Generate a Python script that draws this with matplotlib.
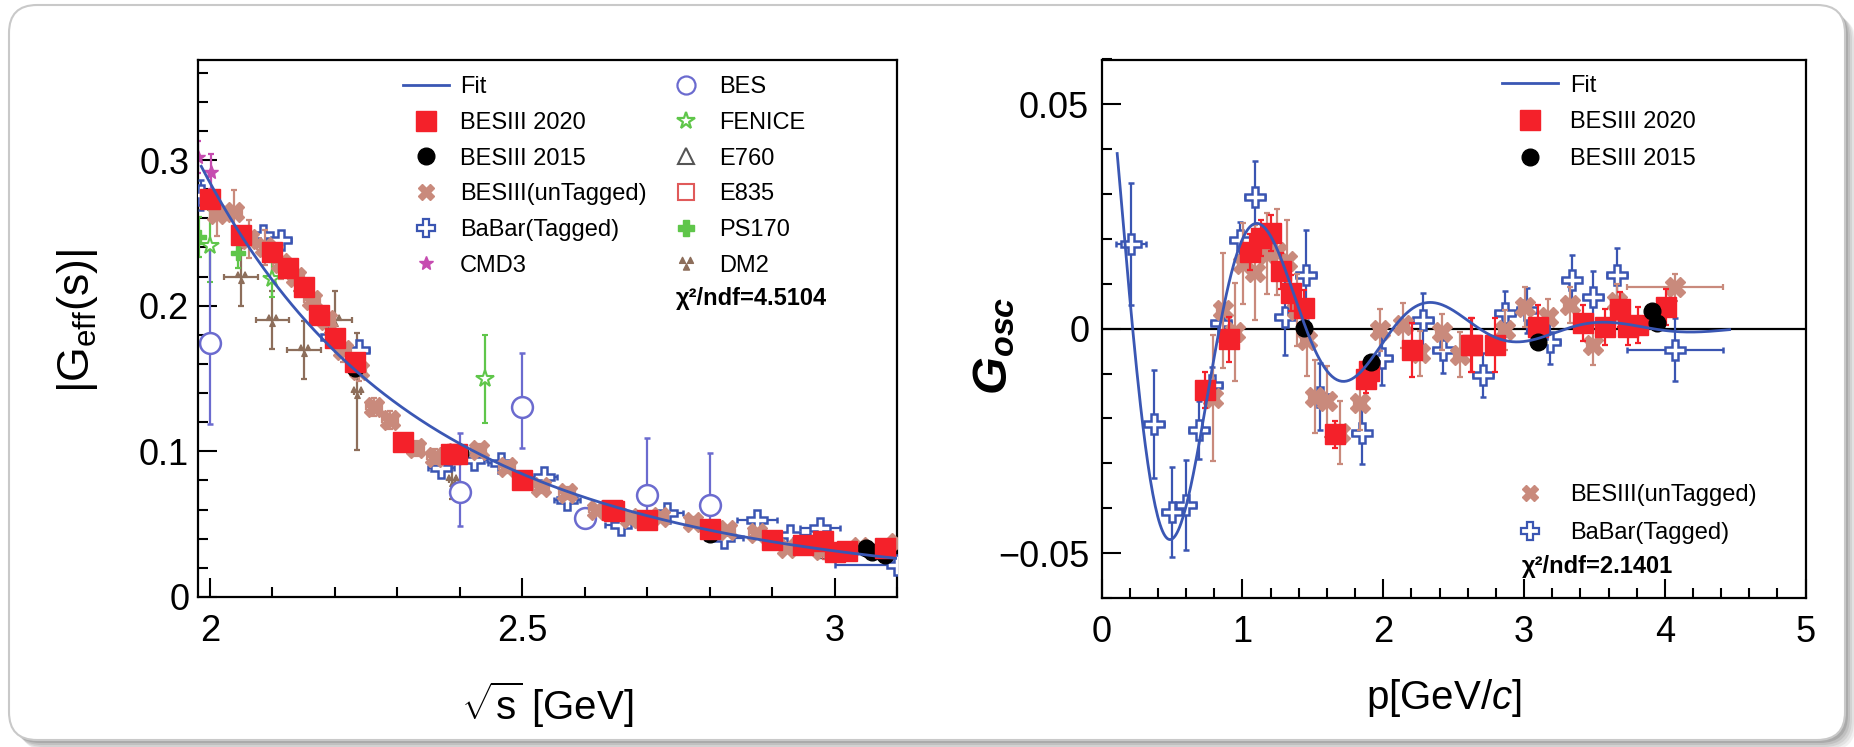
import numpy as np
import matplotlib
matplotlib.use("Agg")
import matplotlib.pyplot as plt
from matplotlib.lines import Line2D
from matplotlib.path import Path
from matplotlib.patches import FancyBboxPatch
from matplotlib.ticker import MultipleLocator, FixedLocator
from matplotlib.transforms import IdentityTransform

plt.rcParams['font.family'] = ['Liberation Sans', 'DejaVu Sans']
plt.rcParams['mathtext.fontset'] = 'custom'
plt.rcParams['mathtext.rm'] = 'Liberation Sans'
plt.rcParams['mathtext.it'] = 'Liberation Sans:italic'
plt.rcParams['mathtext.bf'] = 'Liberation Sans:bold'
plt.rcParams['mathtext.bfit'] = 'Liberation Sans:italic:bold'

# ---------------- |G_eff(s)| versus sqrt(s) ----------------
besiii20_rs = [2.0, 2.05, 2.1, 2.125, 2.15, 2.175, 2.2, 2.2324, 2.3094, 2.3864, 2.396,
               2.5, 2.6444, 2.6464, 2.7, 2.8, 2.9, 2.95, 2.981, 3.0, 3.02, 3.08]
besiii20_g = [0.273, 0.2485, 0.2367, 0.2262, 0.2128, 0.1938, 0.1776, 0.1615, 0.1063, 0.098,
              0.0985, 0.080, 0.0597, 0.0592, 0.053, 0.0464, 0.039, 0.0357, 0.0385, 0.0312,
              0.0313, 0.0335]
besiii20_err = [0.006, 0.005, 0.005, 0.004, 0.004, 0.004, 0.004, 0.004, 0.003, 0.003, 0.003,
                0.003, 0.002, 0.002, 0.002, 0.002, 0.002, 0.002, 0.002, 0.002, 0.002, 0.002]

besiii15_rs = [2.2324, 2.4, 2.8, 3.05, 3.06, 3.08]
besiii15_g = [0.157, 0.099, 0.043, 0.0337, 0.031, 0.029]
besiii15_err = [0.005, 0.004, 0.003, 0.002, 0.002, 0.002]

untag_rs = [2.012, 2.038, 2.063, 2.088, 2.113, 2.138, 2.163, 2.188, 2.213, 2.238, 2.263,
            2.288, 2.33, 2.36, 2.392, 2.43, 2.476, 2.53, 2.572, 2.62, 2.673, 2.721, 2.774,
            2.828, 2.876, 2.924, 2.98, 3.04, 3.1]
untag_g = [0.263, 0.2645, 0.246, 0.240, 0.229, 0.2198, 0.204, 0.190, 0.1695, 0.156, 0.1306,
           0.1215, 0.102, 0.0963, 0.0986, 0.1009, 0.0894, 0.0757, 0.0712, 0.0597, 0.054,
           0.0551, 0.0517, 0.046, 0.044, 0.0334, 0.032, 0.034, 0.037]
untag_err = [0.015, 0.015, 0.013, 0.012, 0.011, 0.010, 0.009, 0.009, 0.008, 0.008, 0.006,
             0.006, 0.005, 0.005, 0.005, 0.004, 0.004, 0.004, 0.004, 0.003, 0.003, 0.003,
             0.003, 0.003, 0.003, 0.003, 0.003, 0.003, 0.003]
untag_xerr = [0.0125] * 29

babar_rs = [1.985, 2.085, 2.114, 2.194, 2.239, 2.37, 2.423, 2.466, 2.535, 2.572, 2.658,
            2.732, 2.823, 2.876, 2.929, 2.977, 3.1]
babar_g = [0.276, 0.2485, 0.245, 0.1787, 0.1695, 0.0883, 0.094, 0.0917, 0.0826, 0.0666,
           0.0494, 0.0574, 0.0403, 0.0528, 0.0426, 0.0471, 0.022]
babar_err = [0.010, 0.006, 0.006, 0.006, 0.006, 0.005, 0.005, 0.005, 0.005, 0.005, 0.005,
             0.005, 0.005, 0.0046, 0.0046, 0.0046, 0.005]
babar_xerr = [0.01, 0.015, 0.015, 0.015, 0.015, 0.021, 0.021, 0.021, 0.021, 0.021, 0.025,
              0.025, 0.03, 0.032, 0.032, 0.032, 0.1]

bes_rs = [2.0, 2.4, 2.5, 2.6, 2.7, 2.8]
bes_g = [0.1745, 0.0723, 0.1306, 0.054, 0.070, 0.0631]
bes_lo = [0.0555, 0.0236, 0.0286, 0.004, 0.015, 0.0196]
bes_hi = [0.0675, 0.0405, 0.0371, 0.004, 0.039, 0.036]

fenice_rs = [2.0, 2.1, 2.44]
fenice_g = [0.241, 0.218, 0.1496]
fenice_err = [0.025, 0.012, 0.030]

ps170_rs = [1.983, 2.045]
ps170_g = [0.247, 0.236]
ps170_err = [0.0137, 0.010]

cmd3_rs = [1.98, 2.001]
cmd3_g = [0.302, 0.292]
cmd3_err = [0.011, 0.012]

dm2_rs = [2.05, 2.1, 2.151, 2.2, 2.236, 2.387]
dm2_g = [0.2198, 0.190, 0.1695, 0.190, 0.141, 0.080]
dm2_err = [0.020, 0.020, 0.020, 0.020, 0.040, 0.013]
dm2_xerr = [0.027, 0.027, 0.027, 0.027, 0.005, 0.005]

e760_rs = [2.98]
e760_g = [0.031]
e835_rs = [2.99]
e835_g = [0.030]

# dipole-type fit |G| = A / ((1 + s/ma2) (1 - s/0.71)^2)
fit_A, fit_ma2, fit_q2 = 9.16, 8.0, 0.71
chi2_left = "4.5104"

# ---------------- G_osc versus p ----------------
osc_b20_p = [0.737, 0.902, 1.055, 1.129, 1.202, 1.275, 1.346, 1.439, 1.657, 1.875, 1.902,
             2.201, 2.626, 2.632, 2.793, 3.101, 3.417, 3.578, 3.680, 3.742, 3.808, 4.009]
osc_b20_g = [-0.0137, -0.0023, 0.0171, 0.0202, 0.0213, 0.0128, 0.0080, 0.0046, -0.0235,
             -0.0113, -0.0095, -0.0047, -0.0036, -0.0036, -0.0036, 0.0004, 0.0012, 0.0004,
             0.0043, 0.0004, 0.0008, 0.0048]
osc_b20_err = [0.004, 0.005, 0.004, 0.004, 0.004, 0.004, 0.004, 0.004, 0.003, 0.003, 0.003,
               0.006, 0.006, 0.006, 0.006, 0.005, 0.004, 0.004, 0.004, 0.004, 0.004, 0.004]

osc_b15_p = [1.439, 1.913, 3.101, 3.908, 3.941]
osc_b15_g = [0.0002, -0.0075, -0.0029, 0.0039, 0.0013]

osc_untag_p = [0.793, 0.859, 0.947, 1.006, 1.089, 1.172, 1.243, 1.314, 1.385, 1.456, 1.515,
               1.598, 1.692, 1.835, 1.977, 2.142, 2.261, 2.415, 2.545, 2.864, 3.006, 3.172,
               3.326, 3.49, 3.658, 4.072]
osc_untag_g = [-0.0154, 0.0041, -0.0007, 0.0145, 0.0126, 0.0167, 0.0171, 0.0152, 0.0041,
               -0.0025, -0.0151, -0.0162, -0.0232, -0.0165, -0.0003, 0.0008, -0.0055, -0.0007,
               -0.0058, -0.0003, 0.0049, 0.0027, 0.0053, -0.0036, 0.0060, 0.0092]
osc_untag_err = [0.014, 0.0128, 0.011, 0.009, 0.0106, 0.009, 0.0096, 0.009, 0.008, 0.008,
                 0.0082, 0.008, 0.007, 0.006, 0.0046, 0.005, 0.005, 0.004, 0.005, 0.0045,
                 0.0045, 0.004, 0.004, 0.0044, 0.004, 0.003]
osc_untag_xerr = [0.04] * 25 + [0.343]

osc_babar_p = [0.208, 0.374, 0.497, 0.599, 0.693, 0.781, 0.845, 0.982, 1.089, 1.302, 1.451,
               1.55, 1.846, 1.989, 2.284, 2.426, 2.71, 2.864, 3.018, 3.184, 3.338, 3.49,
               3.658, 4.072]
osc_babar_g = [0.0189, -0.0213, -0.0408, -0.0393, -0.0225, -0.0125, 0.0012, 0.0197, 0.0293,
               0.0027, 0.0119, -0.0151, -0.0232, -0.0066, 0.0019, -0.0047, -0.0103, 0.0034,
               0.0041, -0.0029, 0.0108, 0.0070, 0.0119, -0.0047]
osc_babar_err = [0.0135, 0.012, 0.010, 0.010, 0.0065, 0.004, 0.004, 0.004, 0.008, 0.0085,
                 0.010, 0.0075, 0.007, 0.006, 0.006, 0.0052, 0.005, 0.005, 0.005, 0.005,
                 0.0057, 0.0058, 0.0061, 0.007]
osc_babar_xerr = [0.107] + [0.07] * 22 + [0.343]

# damped oscillation fit  A exp(-B p) cos(C p + D)
osc_A, osc_B, osc_C, osc_D = 0.0831, 1.126, 5.10, 0.449
chi2_right = "2.1401"

# ---------------- styling ----------------
C_RED = '#f4212a'
C_UNTAG = '#c98a7c'
C_BLUE = '#3a55b2'
C_BES = '#6b6bcf'
C_GREEN = '#5fc64a'
C_CMD3 = '#c64cb0'
C_DM2 = '#8d6e5b'
C_FIT = '#3a57b4'

tri = []
codes = []
for cx, cy in [(-0.5, 0.4), (0.5, 0.4), (0.0, -0.45)]:
    h = 0.38
    tri += [(cx - h, cy - h), (cx + h, cy - h), (cx, cy + h), (cx - h, cy - h)]
    codes += [Path.MOVETO, Path.LINETO, Path.LINETO, Path.CLOSEPOLY]
DM2_MARKER = Path(tri, codes)

W, H = 1854, 747
fig = plt.figure(figsize=(W / 100, H / 100), dpi=100)
fig.patch.set_facecolor('white')

# rounded frame with a soft shadow
for i, a in enumerate([0.10, 0.12, 0.15, 0.2, 0.3]):
    off = 10 - 2 * i
    fig.patches.append(FancyBboxPatch((10 + off, 2 - off + 4), 1836, 735,
                                      boxstyle="round,pad=0,rounding_size=28",
                                      transform=IdentityTransform(), facecolor='#7a7a7a',
                                      edgecolor='none', alpha=a, zorder=-10))
fig.patches.append(FancyBboxPatch((9, 7), 1836, 735, boxstyle="round,pad=0,rounding_size=28",
                                  transform=IdentityTransform(), facecolor='white',
                                  edgecolor='#c9c9c9', linewidth=1.5, zorder=-9))

axL = fig.add_axes([197.5 / W, 1 - 597 / H, 699.5 / W, 537.5 / H])
axR = fig.add_axes([1101.7 / W, 1 - 598 / H, 703.9 / W, 538.5 / H])

eb = dict(elinewidth=1.6, capsize=2.5, capthick=1.6, linestyle='none')

# left panel
axL.errorbar(dm2_rs, dm2_g, yerr=dm2_err, xerr=dm2_xerr, marker=DM2_MARKER, ms=9,
             color=C_DM2, zorder=2, **eb)
axL.errorbar(ps170_rs, ps170_g, yerr=ps170_err, marker='P', ms=10, color=C_GREEN,
             zorder=2, **eb)
axL.errorbar(fenice_rs, fenice_g, yerr=fenice_err, marker='*', ms=13, color=C_GREEN,
             mfc='white', mec=C_GREEN, mew=1.5, zorder=2, **eb)
axL.errorbar(cmd3_rs, cmd3_g, yerr=cmd3_err, marker='*', ms=10, color=C_CMD3, zorder=2, **eb)
axL.errorbar(bes_rs, bes_g, yerr=[bes_lo, bes_hi], marker='o', ms=15, color=C_BES,
             mfc='white', mec=C_BES, mew=1.8, zorder=2, **eb)
axL.errorbar(e760_rs, e760_g, yerr=[0.003], marker='^', ms=8, color='#555555', mfc='none',
             zorder=2, **eb)
axL.errorbar(e835_rs, e835_g, yerr=[0.003], marker='s', ms=8, color='#e05a5a', mfc='none',
             zorder=2, **eb)
axL.errorbar(babar_rs, babar_g, yerr=babar_err, xerr=babar_xerr, marker='P', ms=14,
             color=C_BLUE, mfc='white', mec=C_BLUE, mew=1.8, zorder=3, **eb)
axL.errorbar(untag_rs, untag_g, yerr=untag_err, xerr=untag_xerr, marker='X', ms=14,
             color=C_UNTAG, zorder=4, **eb)
axL.errorbar(besiii20_rs, besiii20_g, yerr=besiii20_err, marker='s', ms=14, color=C_RED,
             zorder=5, **eb)
axL.errorbar(besiii15_rs, besiii15_g, yerr=besiii15_err, marker='o', ms=12, color='black',
             zorder=4.5, **eb)
rs = np.linspace(1.986, 3.1, 400)
s = rs ** 2
axL.plot(rs, fit_A / ((1 + s / fit_ma2) * (1 - s / fit_q2) ** 2), color=C_FIT, lw=2.0,
         zorder=6)

axL.set_xlim(1.98, 3.1)
axL.set_ylim(0, 0.369)
axL.xaxis.set_major_locator(FixedLocator([2, 2.5, 3]))
axL.xaxis.set_minor_locator(MultipleLocator(0.1))
axL.yaxis.set_major_locator(FixedLocator([0, 0.1, 0.2, 0.3]))
axL.yaxis.set_minor_locator(MultipleLocator(0.02))
axL.set_xticklabels(['2', '2.5', '3'])
axL.set_yticklabels(['0', '0.1', '0.2', '0.3'])
axL.set_xlabel(r'$\sqrt{\mathrm{s}}$ [GeV]', fontsize=29)
axL.xaxis.set_label_coords(0.5, (597 - 705) / 537.5)
axL.xaxis.label.set_va('center')
axL.set_ylabel(r'|G$_{\mathrm{eff}}$(s)|', fontsize=32)
axL.yaxis.set_label_coords((77 - 197.5) / 699.5, (597 - 321) / 537.5)
axL.yaxis.label.set_va('center')

hl = [Line2D([], [], color=C_FIT, lw=2.0),
      Line2D([], [], ls='none', marker='s', ms=14, color=C_RED),
      Line2D([], [], ls='none', marker='o', ms=12, color='black'),
      Line2D([], [], ls='none', marker='X', ms=12, color=C_UNTAG),
      Line2D([], [], ls='none', marker='P', ms=13, mfc='white', mec=C_BLUE, mew=1.6),
      Line2D([], [], ls='none', marker='*', ms=10, color=C_CMD3),
      Line2D([], [], ls='none', marker='o', ms=13, mfc='white', mec=C_BES, mew=1.6),
      Line2D([], [], ls='none', marker='*', ms=13, mfc='white', mec=C_GREEN, mew=1.6),
      Line2D([], [], ls='none', marker='^', ms=12, mfc='white', mec='#555555', mew=1.5),
      Line2D([], [], ls='none', marker='s', ms=12, mfc='white', mec='#e05a5a', mew=1.5),
      Line2D([], [], ls='none', marker='P', ms=11, color=C_GREEN),
      Line2D([], [], ls='none', marker=DM2_MARKER, ms=10, color=C_DM2)]
ll = ['Fit', 'BESIII 2020', 'BESIII 2015', 'BESIII(unTagged)', 'BaBar(Tagged)', 'CMD3',
      'BES', 'FENICE', 'E760', 'E835', 'PS170', 'DM2']
axL.legend(hl, ll, ncol=2, loc='upper left', bbox_to_anchor=(0.2938, 0.969), frameon=False,
           fontsize=17, handlelength=1.95, handletextpad=0.45, columnspacing=0.7,
           labelspacing=0.58, borderpad=0, borderaxespad=0)
axL.text((676 - 197.5) / 699.5, (597 - 298.3) / 537.5, '\u03c7\u00b2/ndf=' + chi2_left,
         transform=axL.transAxes, fontsize=17, fontweight='bold', va='center', ha='left')

# right panel
axR.axhline(0, color='black', lw=1.6, zorder=1.5)
axR.errorbar(osc_babar_p, osc_babar_g, yerr=osc_babar_err, xerr=osc_babar_xerr, marker='P',
             ms=14, color=C_BLUE, mfc='white', mec=C_BLUE, mew=1.8, zorder=3, **eb)
axR.errorbar(osc_untag_p, osc_untag_g, yerr=osc_untag_err, xerr=osc_untag_xerr, marker='X',
             ms=14, color=C_UNTAG, zorder=4, **eb)
axR.errorbar(osc_b20_p, osc_b20_g, yerr=osc_b20_err, marker='s', ms=14, color=C_RED,
             zorder=5, **eb)
axR.plot(osc_b15_p, osc_b15_g, ls='none', marker='o', ms=12, color='black', zorder=5.5)
pp = np.linspace(0.11, 4.46, 500)
axR.plot(pp, osc_A * np.exp(-osc_B * pp) * np.cos(osc_C * pp + osc_D), color=C_FIT, lw=2.0,
         zorder=6)

axR.set_xlim(0, 5)
axR.set_ylim(-0.06, 0.06)
axR.xaxis.set_major_locator(FixedLocator([0, 1, 2, 3, 4, 5]))
axR.xaxis.set_minor_locator(MultipleLocator(0.2))
axR.yaxis.set_major_locator(FixedLocator([-0.05, 0, 0.05]))
axR.yaxis.set_minor_locator(MultipleLocator(0.01))
axR.set_yticklabels(['\u22120.05', '0', '0.05'])
axR.set_xticklabels(['0', '1', '2', '3', '4', '5'])
axR.set_xlabel(r'p[GeV/$\mathit{c}$]', fontsize=29)
axR.xaxis.set_label_coords((1444 - 1101.7) / 703.9, (598 - 698) / 538.5)
axR.xaxis.label.set_va('center')
axR.set_ylabel(r'$\mathbfit{G}_{\mathbfit{osc}}$', fontsize=35)
axR.yaxis.set_label_coords((994.5 - 1101.7) / 703.9, (598 - 345.4) / 538.5)
axR.yaxis.label.set_va('center')

hr1 = [Line2D([], [], color=C_FIT, lw=2.0),
       Line2D([], [], ls='none', marker='s', ms=14, color=C_RED),
       Line2D([], [], ls='none', marker='o', ms=12, color='black')]
leg1 = axR.legend(hr1, ['Fit', 'BESIII 2020', 'BESIII 2015'], loc='upper left',
                  bbox_to_anchor=(0.5683, 0.972), frameon=False, fontsize=17,
                  handlelength=2.4, handletextpad=0.5, labelspacing=0.62, borderpad=0,
                  borderaxespad=0)
axR.add_artist(leg1)
hr2 = [Line2D([], [], ls='none', marker='X', ms=12, color=C_UNTAG),
       Line2D([], [], ls='none', marker='P', ms=13, mfc='white', mec=C_BLUE, mew=1.6)]
axR.legend(hr2, ['BESIII(unTagged)', 'BaBar(Tagged)'], loc='upper left',
           bbox_to_anchor=(0.5683, 0.211), frameon=False, fontsize=17, handlelength=2.4,
           handletextpad=0.5, labelspacing=0.68, borderpad=0, borderaxespad=0)
axR.text((1521.7 - 1101.7) / 703.9, (598 - 566) / 538.5, '\u03c7\u00b2/ndf=' + chi2_right,
         transform=axR.transAxes, fontsize=17, fontweight='bold', va='center', ha='left')

for ax in (axL, axR):
    for sp in ax.spines.values():
        sp.set_linewidth(1.6)
    ax.tick_params(which='both', direction='in', top=False, right=False, width=1.5,
                   labelsize=26)
    ax.tick_params(which='major', length=14)
    ax.tick_params(which='minor', length=7)
    ax.tick_params(axis='x', pad=12)
axL.tick_params(axis='y', pad=6)
axR.tick_params(axis='y', pad=9)

fig.savefig('out.png', dpi=100, facecolor='white')
